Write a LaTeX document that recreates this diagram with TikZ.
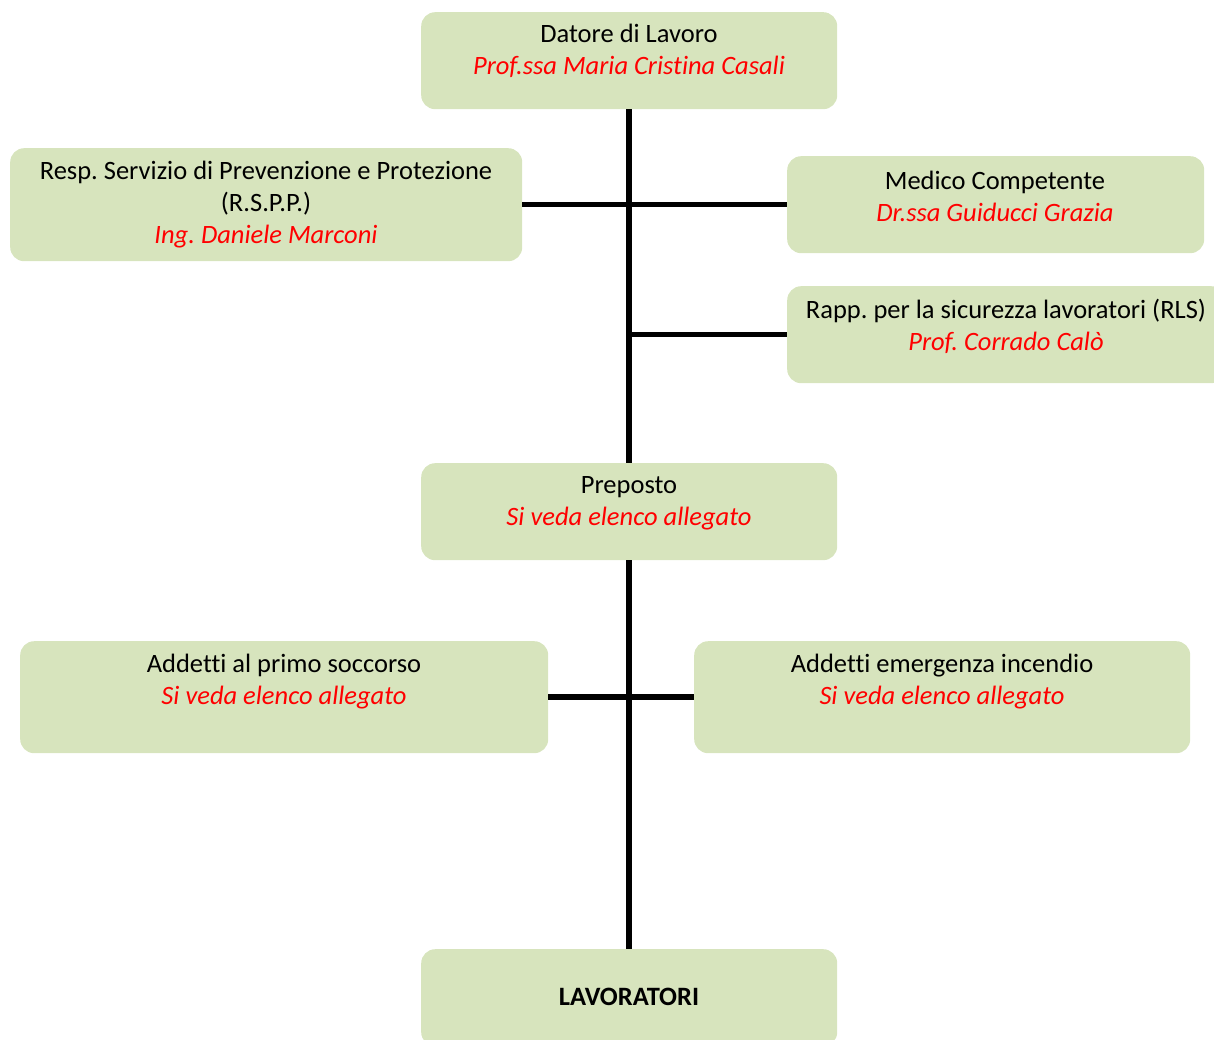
\documentclass[tikz,border=0pt]{standalone}
\usepackage{fontspec}
\setmainfont[Ligatures={NoCommon}]{Carlito}
\frenchspacing
\definecolor{boxgreen}{HTML}{D7E4BD}
\definecolor{nmred}{HTML}{FF0000}
\begin{document}
\begin{tikzpicture}[x=1pt,y=-1pt,
  box/.style={fill=boxgreen, draw=none, rounded corners=14pt, anchor=north west, inner sep=0pt},
  lbl/.style={align=center, font=\fontsize{26.5}{32}\selectfont, inner sep=0pt},
  conn/.style={line width=5.5pt}]
\newcommand{\nm}[1]{{\color{nmred}\itshape #1}}
\clip (0,0) rectangle (1214,1040);
% boxes
\node[box, minimum width=416pt, minimum height=97pt] (dl) at (421,12) {};
\node[box, minimum width=512pt, minimum height=113pt] (rspp) at (10,148) {};
\node[box, minimum width=417pt, minimum height=97pt] (med) at (787,156) {};
\node[box, minimum width=438pt, minimum height=97pt] (rls) at (787,286) {};
\node[box, minimum width=416pt, minimum height=97pt] (pp) at (421,463) {};
\node[box, minimum width=528pt, minimum height=112pt] (ps) at (20,641) {};
\node[box, minimum width=496pt, minimum height=112pt] (inc) at (694,641) {};
\node[box, minimum width=416pt, minimum height=97pt] (lav) at (421,949) {};
% texts
\node[lbl] (dlt) at (629,51) {Datore di Lavoro\\\nm{Prof.ssa Maria Cristina Casali}};
\node[lbl] (rsppt) at (266,205) {Resp. Servizio di Prevenzione e Protezione\\(R.S.P.P.)\\\nm{Ing. Daniele Marconi}};
\node[lbl] (medt) at (995,196) {Medico Competente\\\nm{Dr.ssa Guiducci Grazia}};
\node[lbl] (rlst) at (1006,326) {Rapp. per la sicurezza lavoratori (RLS)\\\nm{Prof. Corrado Calò}};
\node[lbl] (ppt) at (629,503) {Preposto\\\nm{Si veda elenco allegato}};
\node[lbl] (pst) at (284,682) {Addetti al primo soccorso\\\nm{Si veda elenco allegato}};
\node[lbl] (inct) at (942,682) {Addetti emergenza incendio\\\nm{Si veda elenco allegato}};
\node[lbl, font=\fontsize{26.5}{32}\selectfont\bfseries] (lavt) at (629,997) {LAVORATORI};
% connectors
\draw[conn] (dl.south) -- (pp.north);
\draw[conn] (pp.south) -- (lav.north);
\draw[conn] (rspp.east) -- (med.west);
\coordinate (rlsj) at (rls.west -| dl.south);
\draw[conn] (rlsj) -- (rls.west);
\draw[conn] (ps.east) -- (inc.west);
\end{tikzpicture}
\end{document}
